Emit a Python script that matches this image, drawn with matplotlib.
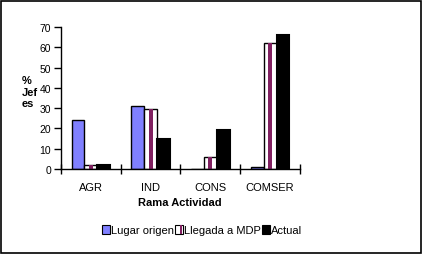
import numpy as np
import matplotlib
matplotlib.use("Agg")
import matplotlib.pyplot as plt
from matplotlib.patches import Patch, Rectangle
from matplotlib.legend_handler import HandlerBase

plt.rcParams['font.family'] = ['Liberation Sans', 'DejaVu Sans']

categories = ["AGR", "IND", "CONS", "COMSER"]
lugar_origen = [24, 31, 0, 1]
llegada_mdp = [2, 29.5, 6, 62]
actual = [2, 15, 19, 66]
series_names = ["Lugar origen", "Llegada a MDP", "Actual"]

blue = '#8080FF'
purple = '#802060'


class StripeHandler(HandlerBase):
    # white box with a purple stripe, like the Llegada bars
    def create_artists(self, legend, orig_handle, xdescent, ydescent,
                       width, height, fontsize, trans):
        box = Rectangle((-xdescent, -ydescent), width, height, facecolor='white',
                        edgecolor='black', linewidth=0.8, transform=trans)
        stripe = Rectangle((-xdescent + width * 0.55, -ydescent), width * 0.3, height,
                           facecolor=purple, linewidth=0, transform=trans)
        return [box, stripe]


fig = plt.figure(figsize=(4.23, 2.55), dpi=100)
ax = fig.add_axes([0.1442, 0.3333, 0.565, 0.5569])

x = np.arange(len(categories))
w = 0.215

ax.bar(x - w, lugar_origen, w, color=blue, edgecolor='black', linewidth=1)
ax.bar(x, llegada_mdp, w, color='white', edgecolor='black', linewidth=1)
# purple stripe in the middle of the white bars
ax.bar(x, llegada_mdp, w * 0.3, color=purple, linewidth=0)
ax.bar(x + w, actual, w, color='black', edgecolor='black', linewidth=1.5)

ax.set_xlim(-0.5, 3.5)
ax.set_ylim(0, 70)
ax.set_yticks(np.arange(0, 71, 10))
ax.set_xticks(np.arange(-0.5, 4, 1))
ax.set_xticklabels([])
ax.set_xticks(x, minor=True)
ax.set_xticklabels(categories, minor=True)
ax.tick_params(axis='x', which='major', direction='inout', length=7, width=1)
ax.tick_params(axis='x', which='minor', length=0, labelsize=8, pad=9)
ax.tick_params(axis='y', direction='out', length=5, width=1, labelsize=7.5, pad=2)

for s in ['top', 'right']:
    ax.spines[s].set_visible(False)
for s in ['left', 'bottom']:
    ax.spines[s].set_linewidth(1)

fig.text(0.052, 0.70, "%\nJef\nes", fontsize=8, fontweight='bold',
         ha='left', va='top', linespacing=1.15)
fig.text(0.426, 0.205, "Rama Actividad", fontsize=8, fontweight='bold',
         ha='center', va='center')

h_lugar = Patch(facecolor=blue, edgecolor='black', linewidth=0.8)
h_llegada = Patch(facecolor='white', edgecolor='black', linewidth=0.8)
h_actual = Patch(facecolor='black', edgecolor='black', linewidth=0.8)
fig.legend([h_lugar, h_llegada, h_actual], series_names, loc='center',
           bbox_to_anchor=(0.478, 0.094), ncol=3, frameon=False, fontsize=8,
           handlelength=0.7, handleheight=0.9, handletextpad=0.1,
           columnspacing=0.1, borderpad=0, handler_map={h_llegada: StripeHandler()})

fig.patches.append(Rectangle((0.002, 0.004), 0.994, 0.99, transform=fig.transFigure,
                             fill=False, edgecolor='black', linewidth=1.2))

fig.savefig("out.png", dpi=100)
